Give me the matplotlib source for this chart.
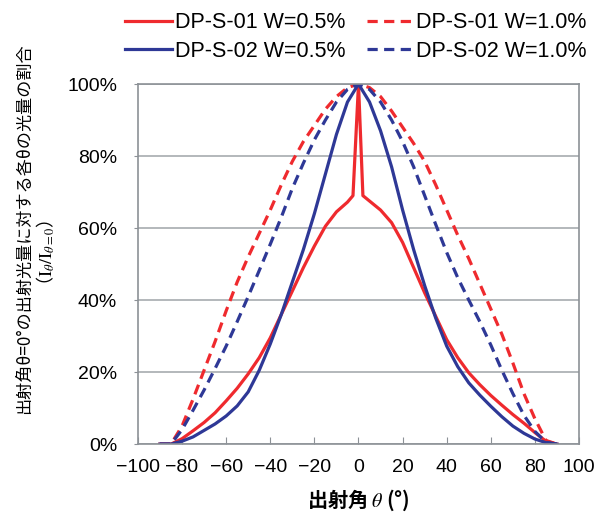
import matplotlib
matplotlib.use("Agg")
import matplotlib.pyplot as plt
from matplotlib.ticker import PercentFormatter, MultipleLocator

plt.rcParams["font.family"] = ["Liberation Sans", "Noto Sans CJK JP", "DejaVu Sans"]
plt.rcParams["mathtext.fontset"] = "stix"

# emission angle (deg)
angle = [-90, -85, -80, -75, -70, -65, -60, -55, -50, -45, -40, -35, -30, -25, -20, -15, -10, -5, 0,
         5, 10, 15, 20, 25, 30, 35, 40, 45, 50, 55, 60, 65, 70, 75, 80, 85, 90]
# red solid has a narrow spike at 0 deg
angle_s01_05 = [-90, -85, -80, -75, -70, -65, -60, -55, -50, -45, -40, -35, -30, -25, -20, -15, -10, -5, -2.5, 0,
                2, 5, 10, 15, 20, 25, 30, 35, 40, 45, 50, 55, 60, 65, 70, 75, 80, 85, 90]

s01_w05 = [0.0, 0.0, 0.015, 0.037, 0.06, 0.087, 0.12, 0.155, 0.195, 0.24, 0.295, 0.36, 0.425, 0.49, 0.55, 0.605,
           0.645, 0.672, 0.69, 1.0,
           0.69, 0.675, 0.65, 0.615, 0.56, 0.49, 0.42, 0.355, 0.29, 0.24, 0.198, 0.165, 0.135, 0.108, 0.082,
           0.058, 0.032, 0.008, 0.0]
s01_w10 = [0.0, 0.0, 0.05, 0.125, 0.205, 0.285, 0.37, 0.45, 0.52, 0.585, 0.65, 0.72, 0.785, 0.84, 0.885, 0.93,
           0.965, 0.99, 1.0,
           0.99, 0.965, 0.925, 0.88, 0.835, 0.785, 0.72, 0.65, 0.58, 0.515, 0.445, 0.375, 0.305, 0.225, 0.14,
           0.07, 0.01, 0.0]
s02_w05 = [0.0, 0.0, 0.008, 0.02, 0.038, 0.056, 0.078, 0.106, 0.145, 0.205, 0.278, 0.36, 0.45, 0.54, 0.64, 0.75,
           0.86, 0.95, 1.0,
           0.95, 0.87, 0.77, 0.65, 0.54, 0.44, 0.35, 0.272, 0.215, 0.17, 0.136, 0.105, 0.076, 0.05, 0.03,
           0.014, 0.004, 0.0]
s02_w10 = [0.0, 0.0, 0.04, 0.094, 0.15, 0.21, 0.272, 0.34, 0.41, 0.482, 0.555, 0.63, 0.71, 0.78, 0.845, 0.9,
           0.95, 0.985, 1.0,
           0.985, 0.95, 0.9, 0.84, 0.77, 0.69, 0.61, 0.532, 0.462, 0.4, 0.34, 0.275, 0.205, 0.14, 0.08,
           0.035, 0.005, 0.0]

labels = ["DP-S-01 W=0.5%", "DP-S-01 W=1.0%", "DP-S-02 W=0.5%", "DP-S-02 W=1.0%"]
x_ticks = list(range(-100, 101, 20))

RED = "#EF2A2E"
BLUE = "#2E3896"
GRID = "#A7ABAF"
SPINE = "#8C9196"

fig = plt.figure(figsize=(5.97, 5.17), dpi=100)
ax = fig.add_axes([0.231, 0.141, 0.739, 0.6965])

lw = 2.3
dash = (0, (3.2, 2.0))
l1, = ax.plot(angle_s01_05, s01_w05, color=RED, lw=lw, label=labels[0])
l2, = ax.plot(angle, s01_w10, color=RED, lw=lw, ls=dash, label=labels[1])
l3, = ax.plot(angle, s02_w05, color=BLUE, lw=lw, label=labels[2])
l4, = ax.plot(angle, s02_w10, color=BLUE, lw=lw, ls=dash, label=labels[3])

ax.set_xlim(-100, 100)
ax.set_ylim(0, 1)
ax.set_xticks(x_ticks)
ax.yaxis.set_major_locator(MultipleLocator(0.2))
ax.yaxis.set_major_formatter(PercentFormatter(1.0, decimals=0))
ax.grid(axis="y", color=GRID, lw=1.2)
ax.set_axisbelow(True)
for s in ax.spines.values():
    s.set_color(SPINE)
    s.set_linewidth(1.2)
ax.tick_params(axis="x", direction="in", length=5, color=SPINE, labelsize=14, pad=11)
ax.tick_params(axis="y", direction="out", length=3, color=SPINE, labelsize=14, pad=12)

ax.set_xlabel("出射角 $\\theta$ (°)", family=["Noto Sans CJK JP", "DejaVu Sans"], fontsize=14.5,
              fontweight="bold", labelpad=8)

fig.text(0.040, 0.558, "出射角θ=0°の出射光量に対する各θの光量の割合", rotation=90,
         family=["Noto Sans CJK JP", "DejaVu Sans"], fontsize=12.3, ha="center", va="center")
fig.text(0.076, 0.503, "（$\\mathrm{I}_{\\theta}/\\mathrm{I}_{\\theta=0}$）", rotation=90,
         family=["Noto Sans CJK JP", "DejaVu Sans"], fontsize=13, ha="center", va="center")

fig.legend([l1, l3, l2, l4], [labels[0], labels[2], labels[1], labels[3]], ncol=2,
           loc="upper left", bbox_to_anchor=(0.195, 0.993), frameon=False, fontsize=15.5,
           handlelength=2.2, handletextpad=0.1, columnspacing=1.0, labelspacing=0.35,
           borderaxespad=0)

fig.savefig("out.png", dpi=100)
